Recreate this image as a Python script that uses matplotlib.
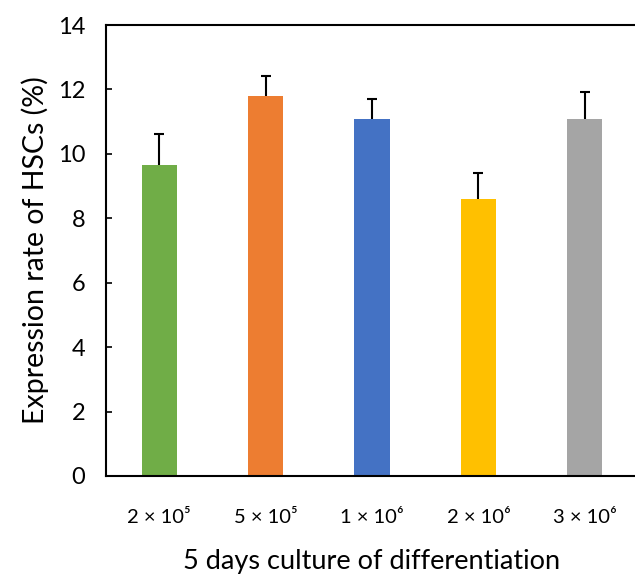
import matplotlib
matplotlib.use("Agg")
import matplotlib.pyplot as plt
import numpy as np

plt.rcParams['font.family'] = ['Lato', 'DejaVu Sans']

categories = ["2 × 10⁵", "5 × 10⁵", "1 × 10⁶", "2 × 10⁶", "3 × 10⁶"]
values = [9.64, 11.80, 11.08, 8.61, 11.07]
errors = [0.97, 0.61, 0.62, 0.80, 0.86]
colors = ["#70AD47", "#ED7D31", "#4472C4", "#FFC000", "#A5A5A5"]

fig = plt.figure(figsize=(6.35, 5.77), dpi=100)
ax = fig.add_axes([106/635, 101/577, 532/635, 451/577])

x = np.arange(len(categories))
ax.bar(x, values, width=0.33, color=colors, zorder=2)
eb = ax.errorbar(x, values, yerr=[np.zeros(len(errors)), errors], fmt='none',
                 ecolor='black', elinewidth=1.5, capsize=3.5, capthick=1.5, zorder=3)
caps = eb[1]
if len(caps) == 2:
    caps[0].set_visible(False)

ax.set_xlim(-0.5, 4.5)
ax.set_ylim(0, 14)
ax.set_yticks(np.arange(0, 15, 2))
ax.set_xticks(x)
ax.set_xticklabels(categories, fontsize=14.5)
ax.tick_params(axis='y', direction='in', length=4, width=1.2, labelsize=17, pad=15)
ax.tick_params(axis='x', length=0, pad=24)
for s in ['left', 'top', 'bottom', 'right']:
    ax.spines[s].set_linewidth(1.5)
ax.spines['right'].set_visible(False)

ax.set_ylabel("Expression rate of HSCs (%)", fontsize=20.5, labelpad=6)
ax.set_xlabel("5 days culture of differentiation", fontsize=19.5, labelpad=16)

fig.savefig("out.png", dpi=100)
